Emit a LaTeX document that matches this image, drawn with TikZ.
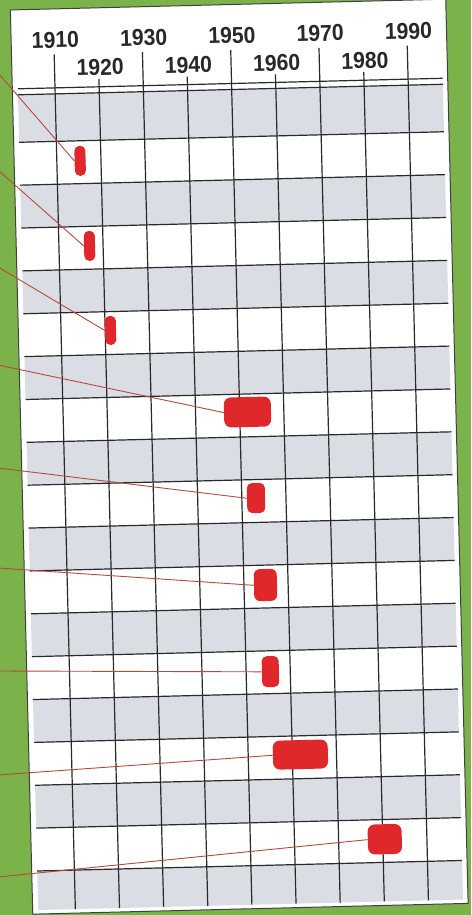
\documentclass[tikz,border=0pt]{standalone}
\usepackage{fontspec}
\setmainfont{Liberation Sans}
\definecolor{bggreen}{RGB}{124,178,74}
\definecolor{rowgray}{RGB}{218,222,228}
\definecolor{gridline}{RGB}{42,42,42}
\definecolor{yeartext}{RGB}{40,40,40}
\definecolor{boxred}{RGB}{224,40,44}
\definecolor{linkred}{RGB}{182,72,62}
\begin{document}
\begin{tikzpicture}[x=1pt,y=-1pt,
  gridl/.style={draw=gridline, line width=1.2pt},
  yearlbl/.style={font=\fontsize{23}{24}\selectfont\bfseries, text=yeartext, inner sep=0pt, xscale=0.92},
  event/.style={fill=boxred, rounded corners=5pt, inner sep=0pt, draw=none},
  link/.style={draw=linkred, line width=0.9pt}]
\useasboundingbox (0,0) rectangle (471,915);
\fill[bggreen] (0,0) rectangle (471,915);
\begin{scope}[rotate around={1.42:(236,457)}, transform shape]
  % card
  \draw[fill=white, draw=black!75, line width=1pt] (21.5,4.5) rectangle (457,909);
  % gray rows
  \fill[rowgray] (27,89.5) rectangle (452,137);
  \foreach \m in {0,...,7}
    \fill[rowgray] (27,{179.88+85.76*\m}) rectangle (452,{222.76+85.76*\m});
  \fill[rowgray] (27,865.96) rectangle (452,905);
  % horizontal lines
  \draw[gridl] (27,83.5) -- (452,83.5);
  \draw[gridl] (27,89.5) -- (452,89.5);
  \foreach \k in {1,...,18}
    \draw[gridl] (27,{137+42.88*(\k-1)}) -- (452,{137+42.88*(\k-1)});
  % decade lines and labels
  \foreach \k/\yr/\top/\ly in {0/1910/50/35.5, 1/1920/75.5/64, 2/1930/50/35.5, 3/1940/75.5/64,
      4/1950/50/35.5, 5/1960/75.5/64, 6/1970/50/35.5, 7/1980/75.5/64, 8/1990/50/35.5}{
    \draw[gridl] ({64.2+44.15*\k},\top) -- ({64.2+44.15*\k},905);
    \node[yearlbl] (y\yr) at ({65.7+44.15*\k},\ly) {\yr};
  }
  % events
  \node[event, minimum width=11pt, minimum height=30pt] (ev1) at (87.5,157) {};
  \node[event, minimum width=11pt, minimum height=30pt] (ev2) at (94.8,242.3) {};
  \node[event, minimum width=11pt, minimum height=29pt] (ev3) at (113.7,327.3) {};
  \node[event, minimum width=47pt, minimum height=30pt, rounded corners=7pt] (ev4) at (248.6,412.3) {};
  \node[event, minimum width=18pt, minimum height=30pt] (ev5) at (255,498.5) {};
  \node[event, minimum width=23pt, minimum height=32pt, rounded corners=6pt] (ev6) at (262.3,585.7) {};
  \node[event, minimum width=17pt, minimum height=31pt] (ev7) at (265.1,672.4) {};
  \node[event, minimum width=55pt, minimum height=29pt, rounded corners=7pt] (ev8) at (293,756.1) {};
  \node[event, minimum width=34pt, minimum height=30pt, rounded corners=7pt] (ev9) at (375.3,842.8) {};
\end{scope}
% free ends of connectors at the left edge
\coordinate (e1) at (-2,73);
\coordinate (e2) at (-2,170);
\coordinate (e3) at (-2,267);
\coordinate (e4) at (-2,365);
\coordinate (e5) at (-2,468);
\coordinate (e6) at (-2,568);
\coordinate (e7) at (-2,671);
\coordinate (e8) at (-2,775);
\coordinate (e9) at (-2,877);
\foreach \i in {1,...,9}
  \draw[link] (e\i) -- (ev\i.west);
\end{tikzpicture}
\end{document}
